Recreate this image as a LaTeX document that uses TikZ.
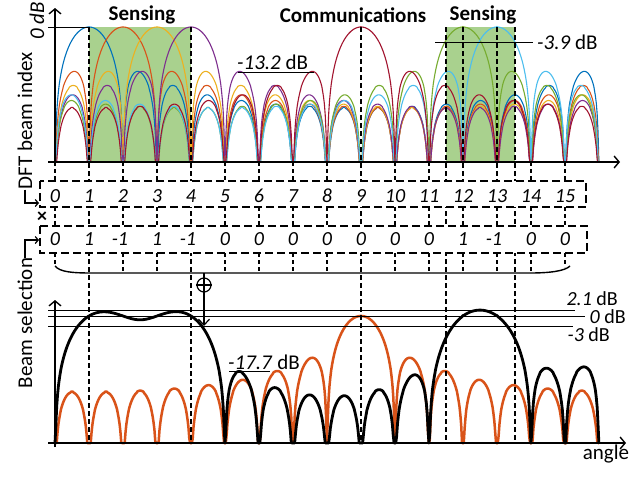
\documentclass[tikz,border=0pt]{standalone}
\usepackage{fontspec}
\setmainfont{Carlito}
\usetikzlibrary{arrows.meta}
\definecolor{mblue}{RGB}{0,114,189}
\definecolor{morange}{RGB}{217,83,25}
\definecolor{myellow}{RGB}{237,177,32}
\definecolor{mpurple}{RGB}{126,47,142}
\definecolor{mgreen}{RGB}{119,172,48}
\definecolor{mlblue}{RGB}{77,190,238}
\definecolor{mcrimson}{RGB}{162,20,47}
\definecolor{senseg}{RGB}{169,209,142}
\pgfmathdeclarefunction{Dk}{1}{%
  \begingroup
  \pgfmathparse{abs(#1)}%
  \ifdim\pgfmathresult pt<0.002pt
    \def\pgfmathresult{1}%
  \else
    \pgfmathparse{sin(180*(#1))/(16*sin(11.25*(#1)))}%
  \fi
  \pgfmathsmuggle\pgfmathresult
  \endgroup}
\pgfmathdeclarefunction{dBv}{1}{\pgfmathparse{max(8.685889*ln(max(abs(#1),0.001)),-40)}}
\pgfmathdeclarefunction{comb}{1}{%
  \begingroup
  \pgfmathsetmacro\cbA{Dk(#1-1)}%
  \pgfmathsetmacro\cbB{Dk(#1-2)}%
  \pgfmathsetmacro\cbC{Dk(#1-3)}%
  \pgfmathsetmacro\cbD{Dk(#1-4)}%
  \pgfmathsetmacro\cbL{Dk(#1-12)}%
  \pgfmathsetmacro\cbM{Dk(#1-13)}%
  \pgfmathsetmacro\cbRe{-0.980785*(\cbA)-0.923880*(\cbB)-0.831470*(\cbC)-0.707107*(\cbD)-0.707107*(\cbL)-0.831470*(\cbM)}%
  \pgfmathsetmacro\cbIm{-0.195090*(\cbA)-0.382683*(\cbB)-0.555570*(\cbC)-0.707107*(\cbD)+0.707107*(\cbL)+0.555570*(\cbM)}%
  \pgfmathparse{veclen(\cbRe,\cbIm)}%
  \pgfmathsmuggle\pgfmathresult
  \endgroup}
\begin{document}
\begin{tikzpicture}[x=1pt,y=-1pt,
  axisarrow/.style={line width=1.4pt,-{Straight Barb[length=5pt,width=12pt]}},
  lvl/.style={line width=0.9pt},
  longdash/.style={line width=1.4pt,dash pattern=on 5pt off 3pt},
  tickdash/.style={line width=1.4pt,dash pattern=on 4pt off 3pt},
  boxdash/.style={line width=1.4pt,dash pattern=on 8pt off 4pt},
  beamline/.style={line width=1.1pt,line join=round},
  lbl/.style={font=\fontsize{21}{25}\selectfont,inner sep=0pt},
  slbl/.style={font=\fontsize{20}{24}\selectfont,inner sep=0pt},
  ttl/.style={font=\fontsize{21}{25}\selectfont\bfseries,inner sep=0pt},
  num/.style={font=\fontsize{20}{24}\selectfont\itshape,inner sep=0pt}]
\useasboundingbox[fill=white] (0,0) rectangle (640,483);

% sensing regions
\fill[senseg] (89,27) rectangle (191,162);
\fill[senseg] (446,27) rectangle (515,162);

% DFT beams
\foreach \k/\c in {1/mblue,2/morange,3/myellow,4/mpurple,12/mgreen,13/mlblue,9/mcrimson}{
  \draw[beamline,\c] plot[domain=0:16,samples=641] ({55+34*\x},{27-3.375*dBv(Dk(\x-\k))});
}

% beam selection result
\draw[line width=2.5pt,morange,line join=round] plot[domain=0:16,samples=641] ({55+34*\x},{316-3.175*dBv(Dk(\x-9))});
\draw[line width=2.8pt,black,line join=round] plot[domain=0:16,samples=641] ({55+34*\x},{316-3.175*dBv(comb(\x))});

% long dashed lines
\foreach \xx in {89,191,361,446,515} \draw[longdash] (\xx,27) -- (\xx,443);
\foreach \xx in {463,497} \draw[longdash] (\xx,27) -- (\xx,181);

% short ticks
\foreach \k in {0,2,3,5,6,7,8,10,11,14,15} \draw[tickdash] ({55+34*\k},162) -- ({55+34*\k},181);
\foreach \k in {0,2,3,5,6,7,8,10,11,12,13,14,15} \draw[tickdash] ({55+34*\k},207) -- ({55+34*\k},226);
\foreach \k in {2,3,5,6,7,8,10,11,12,13,14} \draw[tickdash] ({55+34*\k},253) -- ({55+34*\k},273);
\draw[tickdash] (55,253) -- (55,266);
\draw[tickdash] (565,253) -- (565,267);

% boxes
\draw[boxdash,fill=white] (40,181) rectangle (586,207);
\draw[boxdash,fill=white] (40,226) rectangle (587,253);

% axes
\draw[axisarrow] (48,162) -- (620,162);
\draw[axisarrow] (55,166) -- (55,8);
\draw[axisarrow] (48,443) -- (626,443);
\draw[axisarrow] (55,447) -- (55,300);

% level lines
\draw[lvl] (48,27) -- (89,27);
\draw[lvl] (238,72) -- (314,72);
\draw[lvl] (435,42) -- (533,42);
\draw[lvl] (48,310) -- (575,310);
\draw[lvl] (48,316) -- (585,316);
\draw[lvl] (48,326) -- (573,326);
\draw[lvl] (229,371) -- (270,371);

% titles
\node[ttl] (sens1) at (142,15) {Sensing};
\node[ttl] (comm) at (353,15) {Communications};
\node[ttl] (sens2) at (483,15) {Sensing};

% level labels
\node[lbl,anchor=west] (l132) at (237,62) {\textit{-13.2} dB};
\node[lbl,anchor=west] (l39) at (537,42) {\textit{-3.9} dB};
\node[lbl,anchor=west] (l177) at (228,362) {\textit{-17.7} dB};
\node[slbl,anchor=east] (l21) at (618,299) {\textit{2.1} dB};
\node[slbl,anchor=east] (l0) at (626,317) {\textit{0} dB};
\node[slbl,anchor=east] (l3) at (610,335) {\textit{-3} dB};
\node[lbl,rotate=90] (l0top) at (37,21) {\textit{0 dB}};
\node[lbl] (angle) at (606,454) {angle};

% axis labels
\node[lbl,rotate=90] (dftlbl) at (25,121) {DFT beam index};
\node[lbl,rotate=90] (sellbl) at (25,323) {Beam selection};
\coordinate (dftin) at (39,203);
\coordinate (selin) at (39,240);
\draw[line width=1.2pt,-{Straight Barb[length=3pt,width=7pt]}] (dftlbl.west) |- (dftin);
\draw[line width=1.2pt,-{Straight Barb[length=3pt,width=7pt]}] (sellbl.east) |- (selin);
\node[font=\fontsize{20}{24}\selectfont\bfseries,inner sep=0pt] (times) at (42,217) {×};

% index row and selection row
\foreach \k in {0,...,15} \node[num] (idx\k) at ({55+34*\k},196) {\k};
\foreach \k/\v in {0/0,1/1,3/1,5/0,6/0,7/0,8/0,9/0,10/0,11/0,12/1,14/0,15/0}
  \node[num] (sel\k) at ({55+34*\k},239) {\v};
\foreach \k in {2,4,13} \node[num,anchor=east] (sel\k) at ({60.3+34*\k},239) {-1};

% summation brace and adder
\draw[line width=1.4pt] (55,266) .. controls (60,272) and (72,273) .. (92,273) -- (530,273) .. controls (550,273) and (565,271) .. (570,266);
\coordinate (bracemid) at (204,273);
\coordinate (arrtip) at (204,326);
\node[circle,draw,line width=1.2pt,minimum size=14pt,inner sep=0pt] (osum) at (204,285) {};
\draw[line width=1.2pt] (osum.north) -- (osum.south) (osum.west) -- (osum.east);
\draw[line width=1.2pt] (bracemid) -- (osum.north);
\draw[line width=1.2pt,-{Straight Barb[length=6pt,width=11pt]}] (osum.south) -- (arrtip);
\end{tikzpicture}
\end{document}
